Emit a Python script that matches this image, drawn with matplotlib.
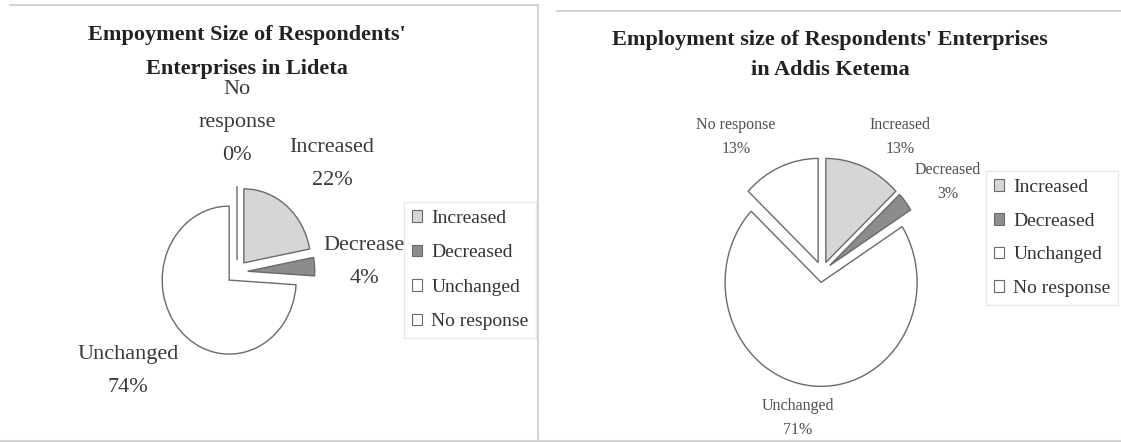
import matplotlib.pyplot as plt
from matplotlib.patches import Patch
from matplotlib.lines import Line2D

plt.rcParams['font.family'] = ['Liberation Serif', 'DejaVu Serif']

W, H = 1121, 444

# data
categories = ['Increased', 'Decreased', 'Unchanged', 'No response']
lideta_pct = [22, 4, 74, 0]
lideta_names = ['Increased', 'Decrease', 'Unchanged', 'No\nresponse']
ketema_pct = [13, 3, 71, 13]
ketema_names = ['Increased', 'Decreased', 'Unchanged', 'No response']

lideta_title = "Empoyment Size of Respondents'\nEnterprises in Lideta"
ketema_title = "Employment size of Respondents' Enterprises\nin Addis Ketema"

colors = ['#d6d6d6', '#8c8c8c', 'white', 'white']
edge = '#6a6a6a'


def px(x, y):
    # pixel (from top-left) -> figure fraction
    return x / W, 1 - y / H


fig = plt.figure(figsize=(W / 100, H / 100), dpi=100)


def draw_pie(cx, cy, rx, ry, values, explode):
    lim = 1.25
    ax = fig.add_axes([(cx - lim * rx) / W, 1 - (cy + lim * ry) / H,
                       2 * lim * rx / W, 2 * lim * ry / H])
    ax.pie(values, colors=colors, startangle=90, counterclock=False,
           explode=[explode] * len(values),
           wedgeprops=dict(edgecolor=edge, linewidth=1.0))
    ax.set_aspect('auto')
    ax.set_xlim(-lim, lim)
    ax.set_ylim(-lim, lim)
    ax.axis('off')
    return ax


draw_pie(237, 272, 67, 74, lideta_pct, 0.16)
draw_pie(822, 272, 96, 104, ketema_pct, 0.10)

# titles
fig.text(*px(247, 52), lideta_title, ha='center', va='center', fontsize=16,
         fontweight='bold', color='#222222', linespacing=1.95)
fig.text(*px(830, 55), ketema_title, ha='center', va='center', fontsize=16,
         fontweight='bold', color='#222222', linespacing=1.65)

# slice labels
left_pos = [(332, 164), (364, 262), (128, 371), (237, 123)]
for (x, y), name, v in zip(left_pos, lideta_names, lideta_pct):
    fig.text(*px(x, y), f'{name}\n{v}%', ha='center', va='center',
             fontsize=16, color='#3a3a3a', linespacing=2.0)

right_pos = [(900, 137), (948, 182), (798, 418), (736, 137)]
for (x, y), name, v in zip(right_pos, ketema_names, ketema_pct):
    fig.text(*px(x, y), f'{name}\n{v}%', ha='center', va='center',
             fontsize=11.5, color='#505050', linespacing=1.65)

# legends
handles = [Patch(facecolor=c, edgecolor=edge, linewidth=0.8) for c in colors]
for lx, ly, sp in [(404, 270, 0.9), (986, 238, 0.85)]:
    fig.legend(handles, categories, loc='center left',
               bbox_to_anchor=px(lx, ly), borderaxespad=0,
               fontsize=14, handlelength=0.55, handleheight=0.55,
               handletextpad=0.45, labelspacing=sp, borderpad=0.4,
               fancybox=False, framealpha=1, edgecolor='#e8e8e8',
               labelcolor='#333333')

# faint panel frame lines
frame = dict(color='#d4d4d4', linewidth=1.5, transform=fig.transFigure)
for (x0, y0), (x1, y1) in [((10, 5), (537, 5)), ((557, 11), (1121, 11)),
                           ((0, 441), (1121, 441)), ((538, 5), (538, 441))]:
    fig.add_artist(Line2D([x0 / W, x1 / W], [1 - y0 / H, 1 - y1 / H], **frame))

plt.savefig('out.png', dpi=100)
